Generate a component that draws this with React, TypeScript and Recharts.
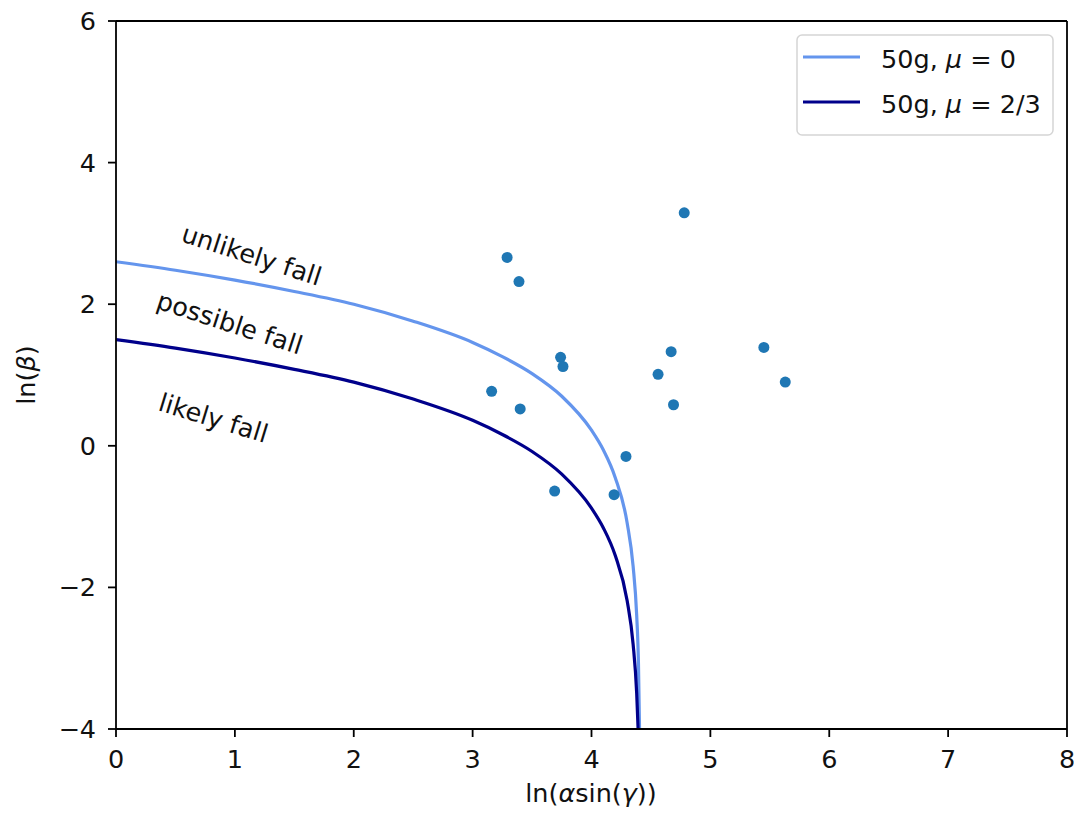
import React from 'react';
import {
  ComposedChart,
  Line,
  Scatter,
  XAxis,
  YAxis,
  ReferenceLine,
} from 'recharts';

// measured points: ln(alpha sin(gamma)) vs ln(beta)
const pointX = [4.78, 3.29, 3.39, 3.74, 3.76, 3.16, 3.4, 4.67, 4.56, 4.69, 5.45, 5.63, 4.29, 3.69, 4.19];
const pointY = [3.29, 2.66, 2.32, 1.25, 1.12, 0.77, 0.52, 1.33, 1.01, 0.58, 1.39, 0.9, -0.15, -0.64, -0.69];

// boundary curves
const curveX = [0, 0.5, 1, 1.5, 2, 2.5, 3, 3.25, 3.5, 3.75, 4, 4.1, 4.2, 4.3, 4.35, 4.38];
const mu0Y = [2.6, 2.48, 2.34, 2.18, 2.0, 1.76, 1.46, 1.26, 1.02, 0.7, 0.22, -0.06, -0.45, -1.09, -1.7, -2.39];
const mu23Y = [1.5, 1.38, 1.24, 1.08, 0.9, 0.66, 0.36, 0.16, -0.08, -0.4, -0.88, -1.16, -1.55, -2.19, -2.8, -3.49];
const mu0TailX = [4.395, 4.404];
const mu0TailY = [-3.08, -4];
const mu23TailX = [4.392];
const mu23TailY = [-4];

const xTicks = [0, 1, 2, 3, 4, 5, 6, 7, 8];
const yTicks = [-4, -2, 0, 2, 4, 6];

const points = pointX.map((x, i) => ({ x, y: pointY[i] }));
const mu0 = [...curveX, ...mu0TailX].map((x, i) => ({ x, y: [...mu0Y, ...mu0TailY][i] }));
const mu23 = [...curveX, ...mu23TailX].map((x, i) => ({ x, y: [...mu23Y, ...mu23TailY][i] }));

const FONT = 'DejaVu Sans';
const FS = 25.5;
const LIGHT = '#6495ed';
const DARK = '#00008b';
const DOT = '#1f77b4';

const fmt = (v: number) => (v < 0 ? `\u2212${-v}` : `${v}`);

const Dot = (props: any) => <circle cx={props.cx} cy={props.cy} r={5.5} fill={DOT} />;

export default function App() {
  return (
    <div style={{ position: 'absolute', left: 0, top: 0, width: 1074, height: 813, background: '#fff' }}>
      <ComposedChart
        width={1074}
        height={813}
        margin={{ top: 21, right: 7, left: 16, bottom: 24 }}
      >
        <XAxis
          type="number"
          dataKey="x"
          domain={[0, 8]}
          ticks={xTicks}
          allowDataOverflow
          height={60}
          tickFormatter={fmt}
          tick={{ fill: '#111', fontSize: FS, fontFamily: FONT }}
          tickSize={8}
          tickMargin={13}
          axisLine={{ stroke: '#000', strokeWidth: 1.8 }}
          tickLine={{ stroke: '#000', strokeWidth: 1.8 }}
        />
        <YAxis
          type="number"
          dataKey="y"
          domain={[-4, 6]}
          ticks={yTicks}
          allowDataOverflow
          width={100}
          tickFormatter={fmt}
          tick={{ fill: '#111', fontSize: FS, fontFamily: FONT }}
          tickSize={8}
          tickMargin={12}
          axisLine={{ stroke: '#000', strokeWidth: 1.8 }}
          tickLine={{ stroke: '#000', strokeWidth: 1.8 }}
        />
        <ReferenceLine y={6} stroke="#000" strokeWidth={1.8} />
        <ReferenceLine x={8} stroke="#000" strokeWidth={1.8} />
        <Line
          data={mu0}
          dataKey="y"
          type="monotone"
          stroke={LIGHT}
          strokeWidth={3.2}
          dot={false}
          isAnimationActive={false}
        />
        <Line
          data={mu23}
          dataKey="y"
          type="monotone"
          stroke={DARK}
          strokeWidth={3.2}
          dot={false}
          isAnimationActive={false}
        />
        <Scatter data={points} shape={Dot} isAnimationActive={false} />
      </ComposedChart>

      <svg
        width={1074}
        height={813}
        style={{ position: 'absolute', left: 0, top: 0, pointerEvents: 'none' }}
        fontFamily={FONT}
        fontSize={FS}
        fill="#111"
      >
        {/* region annotations */}
        <text x={180} y={241} transform="rotate(18 180 241)">unlikely fall</text>
        <text x={155} y={308} transform="rotate(18 155 308)">possible fall</text>
        <text x={157} y={410} transform="rotate(17 157 410)">likely fall</text>

        {/* axis labels */}
        <text x={591} y={802} textAnchor="middle">
          ln(<tspan fontStyle="italic">α</tspan>sin(<tspan fontStyle="italic">γ</tspan>))
        </text>
        <text x={35} y={375} textAnchor="middle" transform="rotate(-90 35 375)">
          ln(<tspan fontStyle="italic">β</tspan>)
        </text>

        {/* legend */}
        <rect x={797} y={35} width={256} height={100} rx={5} fill="#fff" fillOpacity={0.8} stroke="#d5d5d5" strokeWidth={1.5} />
        <line x1={803} y1={57} x2={860} y2={57} stroke={LIGHT} strokeWidth={3.2} />
        <line x1={803} y1={102} x2={860} y2={102} stroke={DARK} strokeWidth={3.2} />
        <text x={881} y={68}>
          50g, <tspan fontStyle="italic">μ</tspan> = 0
        </text>
        <text x={881} y={113}>
          50g, <tspan fontStyle="italic">μ</tspan> = 2/3
        </text>
      </svg>
    </div>
  );
}
